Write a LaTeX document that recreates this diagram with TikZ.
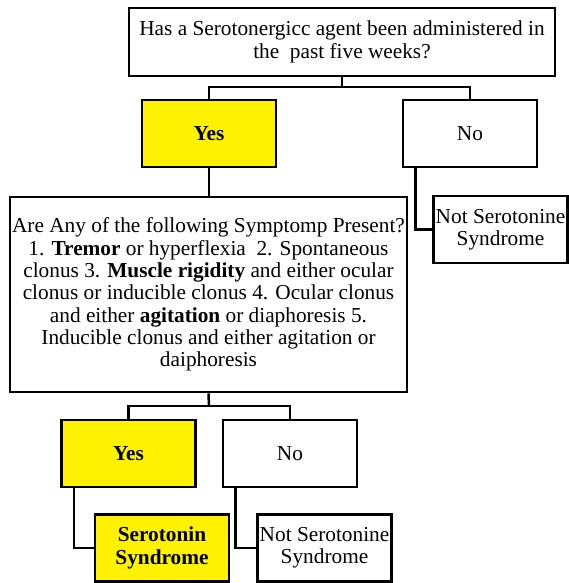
\documentclass[tikz,border=0pt]{standalone}
\usepackage{fontspec}
\setmainfont{Liberation Serif}
\usepackage{tikz}
\tikzset{
  flowbox/.style={draw,rectangle,line width=2.9pt,inner sep=1pt,align=center,
    minimum width=134pt,minimum height=67pt,font=\fontsize{21.3}{22.3}\selectfont},
  yesbox/.style={flowbox,fill=yellow,font=\fontsize{21.3}{22.3}\selectfont\bfseries},
  link/.style={line width=2.5pt}
}

\begin{document}
\begin{tikzpicture}[x=1pt,y=-1pt]
    \useasboundingbox (0,0) rectangle (569,583);

    % first question
    \node [flowbox, minimum width=426pt, minimum height=68pt] (q1) at (342,42)
      {Has a Serotonergicc agent been administered in\\the~~past five weeks?};
    \node [yesbox] (yes1) at (209,133.5) {Yes};
    \node [flowbox] (no1) at (470,133.5) {No};
    \node [flowbox] (notss1) at (500.5,229.5) {Not Serotonine\\Syndrome};

    % second question
    \node [flowbox, minimum width=397pt, minimum height=195pt] (q2) at (208.5,294.5)
      {Are Any of the following Symptomp Present?\\
       1. \textbf{Tremor} or hyperflexia~~2. Spontaneous\\
       clonus 3. \textbf{Muscle rigidity} and either ocular\\
       clonus or inducible clonus 4. Ocular clonus\\
       and either \textbf{agitation} or diaphoresis 5.\\
       Inducible clonus and either agitation or\\
       daiphoresis};
    \node [yesbox] (yes2) at (128.5,453.5) {Yes};
    \node [flowbox] (no2) at (290,453.5) {No};
    \node [yesbox] (ss) at (162,548) {Serotonin\\Syndrome};
    \node [flowbox] (notss2) at (324.5,548) {Not Serotonine\\Syndrome};

    \coordinate (j1) at (342,87);
    \coordinate (j2) at (209,406);

    \draw [link] (q1.south) -- (j1);
    \draw [link] (yes1.north) |- (j1) -| (no1.north);
    \draw [link] (yes1.south) -- (yes1.south |- q2.north);
    \draw [link] ([xshift=14pt]no1.south west) |- (notss1.west);

    \draw [link] (q2.south) -- (j2);
    \draw [link] (yes2.north) |- (j2) -| (no2.north);
    \draw [link] ([xshift=14pt]yes2.south west) |- (ss.west);
    \draw [link] ([xshift=14pt]no2.south west) |- (notss2.west);
\end{tikzpicture}
\end{document}
